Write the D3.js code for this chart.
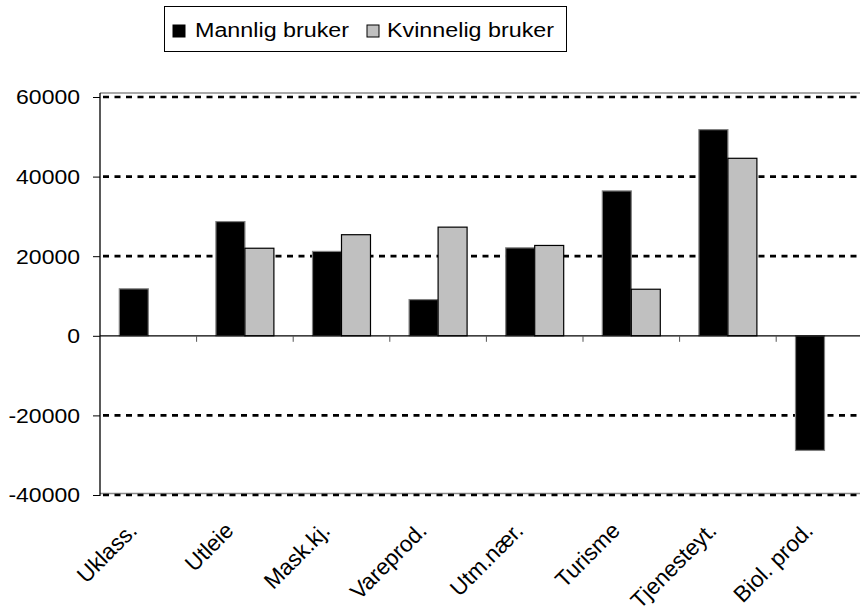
<!DOCTYPE html>
<html>
<head>
<meta charset="utf-8">
<script src="https://cdn.jsdelivr.net/npm/d3@7"></script>
<style>
  body { margin: 0; background: #fff; }
  svg text { font-family: "Liberation Sans", Arial, sans-serif; fill: #000; }
</style>
</head>
<body>
<div id="painting"></div>
<script>
// data
var categories = ["Uklass.", "Utleie", "Mask.kj.", "Vareprod.", "Utm.nær.", "Turisme", "Tjenesteyt.", "Biol. prod."];
var mannlig = [11800, 28700, 21200, 9100, 22100, 36400, 51800, -28800];
var kvinnelig = [null, 22000, 25400, 27300, 22700, 11700, 44600, null];
var seriesNames = ["Mannlig bruker", "Kvinnelig bruker"];
var yTicks = [-40000, -20000, 0, 20000, 40000, 60000];

var colours = ["#000000", "#c0c0c0"];
var strokes = ["#808080", "#000000"];

var W = 860, H = 614;
var left = 100, step = 96.6;

var svg = d3.select("#painting").append("svg")
  .attr("width", W).attr("height", H);

var yScale = d3.scaleLinear().domain([-40000, 60000]).range([495, 97]);
var xScale = d3.scaleBand().domain(categories)
  .range([left, left + step * categories.length]);
var xSub = d3.scaleBand().domain([0, 1])
  .range([0, xScale.bandwidth()])
  .paddingInner(0).paddingOuter(0.666);

// plot area frame (grey)
svg.append("line").attr("x1", left).attr("x2", W).attr("y1", 93).attr("y2", 93)
  .attr("stroke", "#8c8c8c").attr("stroke-width", 1.5);
svg.append("line").attr("x1", left).attr("x2", W).attr("y1", 493.5).attr("y2", 493.5)
  .attr("stroke", "#8c8c8c").attr("stroke-width", 1.5);

// dotted gridlines
svg.append("g").selectAll("line")
  .data(yTicks.filter(function(d){ return d !== 0; }))
  .enter().append("line")
  .attr("x1", left + 3).attr("x2", W)
  .attr("y1", function(d){ return yScale(d); })
  .attr("y2", function(d){ return yScale(d); })
  .attr("stroke", "#000").attr("stroke-width", 2.7)
  .attr("stroke-dasharray", "6,5.5");

// bars
var rows = categories.map(function(c, i){ return {cat: c, vals: [mannlig[i], kvinnelig[i]]}; });
var groups = svg.append("g").selectAll("g")
  .data(rows).enter().append("g")
  .attr("transform", function(d){ return "translate(" + xScale(d.cat) + ",0)"; });
groups.selectAll("rect")
  .data(function(d){ return d.vals.map(function(v, k){ return {k: k, v: v}; }).filter(function(e){ return e.v !== null; }); })
  .enter().append("rect")
  .attr("x", function(d){ return xSub(d.k); })
  .attr("width", xSub.bandwidth())
  .attr("y", function(d){ return yScale(Math.max(0, d.v)); })
  .attr("height", function(d){ return Math.abs(yScale(d.v) - yScale(0)); })
  .attr("fill", function(d){ return colours[d.k]; })
  .attr("stroke", function(d){ return strokes[d.k]; })
  .attr("stroke-width", 1.2);

// zero line with category ticks
svg.append("line").attr("x1", left).attr("x2", W)
  .attr("y1", yScale(0)).attr("y2", yScale(0))
  .attr("stroke", "#000").attr("stroke-width", 1.3);
svg.append("g").selectAll("line")
  .data(categories.slice(1)).enter().append("line")
  .attr("x1", function(d){ return xScale(d); }).attr("x2", function(d){ return xScale(d); })
  .attr("y1", yScale(0)).attr("y2", yScale(0) + 6)
  .attr("stroke", "#555").attr("stroke-width", 1);

// y axis
var yAxis = d3.axisLeft(yScale).tickValues(yTicks).tickSize(7).tickPadding(0)
  .tickFormat(function(d){ return String(d); });
var yg = svg.append("g").attr("transform", "translate(" + left + ",0)").call(yAxis);
yg.select(".domain").attr("d", "M0,93V496").attr("stroke", "#000").attr("stroke-width", 1.3);
yg.selectAll(".tick line").attr("stroke", "#000");
yg.selectAll(".tick text")
  .attr("x", null).attr("dy", null)
  .attr("font-size", 20)
  .attr("dominant-baseline", "central")
  .attr("transform", "translate(-20,0) scale(1.15,1)");

// x labels (bottom, rotated)
svg.append("g").selectAll("text")
  .data(categories).enter().append("text")
  .attr("text-anchor", "end")
  .attr("font-size", 22.5)
  .attr("transform", function(d){
    return "translate(" + (xScale(d) + xScale.bandwidth() / 2 - 10) + ",532) rotate(-45)";
  })
  .text(function(d){ return d; });

// legend
var lg = svg.append("g");
lg.append("rect").attr("x", 164.5).attr("y", 6.5).attr("width", 402).attr("height", 45)
  .attr("fill", "#fff").attr("stroke", "#000").attr("stroke-width", 1);
var lx = [173, 367], tx = [195, 387];
seriesNames.forEach(function(n, k){
  lg.append("rect").attr("x", lx[k]).attr("y", 25).attr("width", 12).attr("height", 12)
    .attr("fill", colours[k]).attr("stroke", "#000").attr("stroke-width", 1);
  lg.append("text").attr("font-size", 21)
    .attr("transform", "translate(" + tx[k] + ",37) scale(1.11,1)")
    .text(n);
});
</script>
</body>
</html>
